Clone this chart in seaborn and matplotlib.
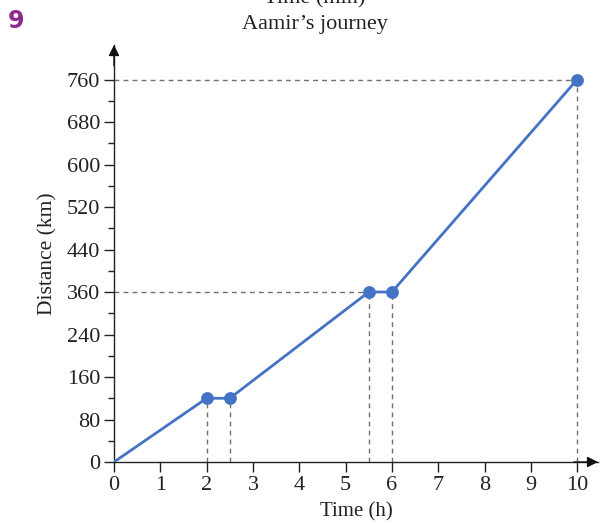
import numpy as np
import pandas as pd
import matplotlib
matplotlib.use("Agg")
import matplotlib.pyplot as plt
import seaborn as sns

# Aamir's journey: time (h) against distance (km)
time_h = [0, 2, 2.5, 5.5, 6, 10]
distance_km = [0, 120, 120, 360, 360, 760]

x_ticks = [0, 1, 2, 3, 4, 5, 6, 7, 8, 9, 10]
y_ticks = [0, 80, 160, 240, 360, 440, 520, 600, 680, 760]
y_minor = [40, 120, 200, 300, 400, 480, 560, 640, 720]

# stops marked with dots and dashed guides down to the axes
stop_time = [2, 2.5, 5.5, 6, 10]
stop_dist = [120, 120, 360, 360, 760]
guide_time = [5.5, 10]
guide_dist = [360, 760]

sns.set_theme(style="ticks")
plt.rcParams["font.family"] = ["Liberation Serif", "DejaVu Serif"]

BLUE = "#4472C4"
GUIDE = "#707070"
INK = "#222222"

# The printed distance axis jumps from 240 to 360 in one equal step,
# so the scale is piecewise linear through those labels.
_src = np.array([-1000.0, 240.0, 360.0, 5000.0])
_dst = np.array([-1000.0, 240.0, 320.0, 4960.0])


def fwd(v):
    return np.interp(v, _src, _dst)


def inv(v):
    return np.interp(v, _dst, _src)


df = pd.DataFrame({"Time (h)": time_h, "Distance (km)": distance_km})
stops = pd.DataFrame({"Time (h)": stop_time, "Distance (km)": stop_dist})

fig = plt.figure(figsize=(6.01, 5.26), dpi=100)
ax = fig.add_axes([114 / 601, 64 / 526, (598 - 114) / 601, (462 - 45) / 526])
ax.set_yscale("function", functions=(fwd, inv))

# dashed guide lines
for t, d in zip(stop_time, stop_dist):
    ax.plot([t, t], [0, d], color=GUIDE, lw=1, dashes=(3.5, 3), zorder=1)
for t, d in zip(guide_time, guide_dist):
    ax.plot([0, t], [d, d], color=GUIDE, lw=1, dashes=(3.5, 3), zorder=1)

sns.lineplot(data=df, x="Time (h)", y="Distance (km)", ax=ax, color=BLUE,
             lw=2, zorder=3)
sns.scatterplot(data=stops, x="Time (h)", y="Distance (km)", ax=ax,
                color=BLUE, s=85, edgecolor=BLUE, linewidth=0, zorder=4)

ax.set_xlim(0, 10.45)
ax.set_ylim(0, 825)
ax.set_xticks(x_ticks)
ax.set_xticklabels([str(v) for v in x_ticks])
ax.set_yticks(y_ticks)
ax.set_yticklabels([str(v) for v in y_ticks])
ax.set_yticks(y_minor, minor=True)
ax.xaxis.set_minor_locator(matplotlib.ticker.NullLocator())

ax.tick_params(axis="both", which="major", labelsize=16, length=7, width=1,
               color=INK, labelcolor=INK, direction="out", pad=3)
ax.tick_params(axis="y", which="minor", length=4, width=1, color=INK)

for side in ("top", "right"):
    ax.spines[side].set_visible(False)
for side in ("left", "bottom"):
    ax.spines[side].set_color(INK)
    ax.spines[side].set_linewidth(1)

ax.set_xlabel("Time (h)", fontsize=15, color=INK, labelpad=5)
ax.set_ylabel("Distance (km)", fontsize=15.5, color=INK, labelpad=7)

# arrow heads at the ends of both axes
ax.annotate("", xy=(0, 1.0), xytext=(0, 0.95), xycoords="axes fraction",
            arrowprops=dict(arrowstyle="-|>", color="#111111", lw=1,
                            mutation_scale=16, shrinkA=0, shrinkB=0))
ax.annotate("", xy=(1.0, 0), xytext=(0.95, 0), xycoords="axes fraction",
            arrowprops=dict(arrowstyle="-|>", color="#111111", lw=1,
                            mutation_scale=16, shrinkA=0, shrinkB=0))

fig.text(315 / 601, 1 - 25 / 526, "Aamir\u2019s journey", ha="center",
         va="center", fontsize=16, color=INK)
fig.text(315 / 601, 1 + 1 / 526, "Time (min)", ha="center", va="center",
         fontsize=16, color=INK)
fig.text(8 / 601, 1 - 28 / 526, "9", ha="left", va="baseline", fontsize=17,
         fontweight="bold", color="#8E2A8E",
         family=["DejaVu Sans", "Liberation Sans"])

fig.savefig("out.png", dpi=100)
